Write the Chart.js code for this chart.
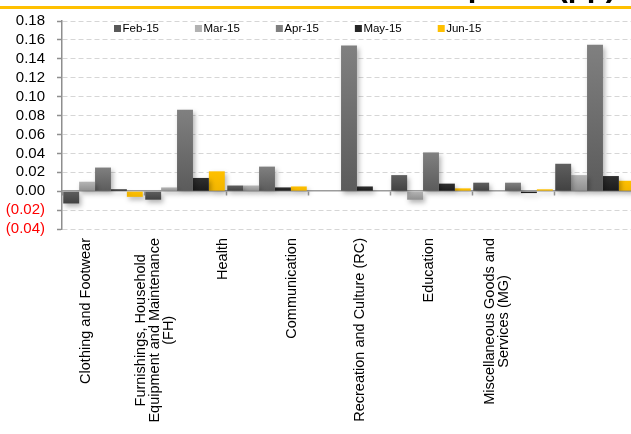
<!DOCTYPE html>
<html>
<head>
<meta charset="utf-8">
<script src="https://cdn.jsdelivr.net/npm/chart.js@4.4.0/dist/chart.umd.min.js"></script>
<style>
  html, body { margin: 0; padding: 0; background: #fff; overflow: hidden; width: 631px; height: 434px; }
  #wrap { position: relative; width: 631px; height: 434px; overflow: hidden; }
  #chart { position: absolute; left: 0; top: 0; }
  #title { position: absolute; top: -30px; right: 15px; font: bold 31px "Liberation Sans", Arial, sans-serif;
           line-height: 31px; white-space: nowrap; color: #000; z-index: 1; }
  #rule { position: absolute; left: 0; top: 6px; width: 100%; height: 3px; background: #ffc000; z-index: 2; }
</style>
</head>
<body>
<div id="wrap">
  <canvas id="chart" width="640" height="434"></canvas>
  <div id="title">Non-Food Inflation: Contribution Impacts (pp)</div>
  <div id="rule"></div>
</div>
<script>
// Category groups (each entry is the list of lines of its label)
const categories = [
  ['Clothing and Footwear'],
  ['Furnishings, Household', 'Equipment and Maintenance', '(FH)'],
  ['Health'],
  ['Communication'],
  ['Recreation and Culture (RC)'],
  ['Education'],
  ['Miscellaneous Goods and', 'Services (MG)']
];

// Series names
const months = ['Feb-15', 'Mar-15', 'Apr-15', 'May-15', 'Jun-15'];

// Contributions in percentage points, one value per category
const feb15 = [-0.013, -0.009, 0.006, 0.000, 0.017, 0.009, 0.029];
const mar15 = [0.010, 0.004, 0.006, 0.000, -0.009, 0.001, 0.017];
const apr15 = [0.025, 0.086, 0.026, 0.154, 0.041, 0.009, 0.155];
const may15 = [0.002, 0.014, 0.004, 0.005, 0.008, -0.002, 0.016];
const jun15 = [-0.006, 0.021, 0.005, 0.000, 0.003, 0.002, 0.011];

// Value axis ticks
const yMin = -0.04;
const yMax = 0.18;
const yStep = 0.02;

// Fill colours: [top of bar, bottom of bar, legend swatch]
const palette = [
  ['#5f5f5f', '#414141', '#595959'],
  ['#b5b5b5', '#8f8f8f', '#b2b2b2'],
  ['#808080', '#5b5b5b', '#7f7f7f'],
  ['#2f2f2f', '#1b1b1b', '#262626'],
  ['#ffc000', '#f2b500', '#ffc000']
];

const FONT = '"Liberation Sans", Arial, sans-serif';

// Vertical gradient per bar, from its top edge down to its bottom edge
function barFill(light, dark) {
  return (c) => {
    const chart = c.chart;
    const ys = chart.scales && chart.scales.y;
    if (c.type !== 'data' || !ys) return light;
    const v = c.raw;
    const top = ys.getPixelForValue(Math.max(v, 0));
    const bot = ys.getPixelForValue(Math.min(v, 0));
    if (!isFinite(top) || !isFinite(bot) || bot - top < 0.5) return dark;
    const g = chart.ctx.createLinearGradient(0, top, 0, bot);
    g.addColorStop(0, light);
    g.addColorStop(1, dark);
    return g;
  };
}

const seriesValues = [feb15, mar15, apr15, may15, jun15];

const datasets = months.map((m, i) => ({
  label: m,
  data: seriesValues[i],
  xAxisID: 'x',
  yAxisID: 'y',
  backgroundColor: barFill(palette[i][0], palette[i][1]),
  borderWidth: 0,
  barPercentage: 1.0,
  categoryPercentage: 0.97
}));

// Soft drop shadow under the bars
const barShadow = {
  id: 'barShadow',
  beforeDatasetsDraw(chart) {
    const ctx = chart.ctx;
    ctx.save();
    ctx.shadowColor = 'rgba(0,0,0,0.30)';
    ctx.shadowBlur = 5;
    ctx.shadowOffsetX = 2;
    ctx.shadowOffsetY = 3;
  },
  afterDatasetsDraw(chart) {
    chart.ctx.restore();
  }
};

// Single-row legend drawn inside the top of the plot area
const insideLegend = {
  id: 'insideLegend',
  afterDraw(chart) {
    const { ctx, chartArea } = chart;
    ctx.save();
    ctx.font = '11.5px ' + FONT;
    ctx.textBaseline = 'middle';
    ctx.textAlign = 'left';
    let x = chartArea.left + 52;
    const y = chartArea.top + 7.5;
    chart.data.datasets.forEach((ds, i) => {
      ctx.fillStyle = palette[i][2];
      ctx.fillRect(x, y - 3.5, 7, 7);
      ctx.fillStyle = '#000';
      ctx.fillText(ds.label, x + 8.5, y);
      x += 8.5 + ctx.measureText(ds.label).width + 36;
    });
    ctx.restore();
  }
};

// Rotated, line-centred category labels placed along the label scale
const LABEL_SIZE = 14.5;
const LABEL_LINE = 14;
const LABEL_GAP = 9;
const categoryLabels = {
  id: 'categoryLabels',
  afterDraw(chart) {
    const s = chart.scales.xl;
    const ctx = chart.ctx;
    ctx.save();
    ctx.font = LABEL_SIZE + 'px ' + FONT;
    ctx.fillStyle = '#000';
    ctx.textAlign = 'center';
    ctx.textBaseline = 'middle';
    categories.forEach((lines, i) => {
      const cx = s.getPixelForValue(i);
      const w = Math.max(...lines.map(l => ctx.measureText(l).width));
      const cy = s.top + LABEL_GAP + w / 2;
      lines.forEach((line, j) => {
        ctx.save();
        ctx.translate(cx + (j - (lines.length - 1) / 2) * LABEL_LINE, cy);
        ctx.rotate(-Math.PI / 2);
        ctx.fillText(line, 0, 0);
        ctx.restore();
      });
    });
    ctx.restore();
  }
};

function fmtTick(v) {
  if (Math.abs(v) < 1e-9) return '0.00';
  return v < 0 ? '(' + Math.abs(v).toFixed(2) + ')' : v.toFixed(2);
}

new Chart(document.getElementById('chart'), {
  type: 'bar',
  data: {
    labels: categories.map(l => l.join(' ')),
    datasets
  },
  options: {
    responsive: false,
    animation: false,
    devicePixelRatio: 1,
    layout: { padding: { top: 19, right: 4, left: 0, bottom: 0 } },
    plugins: {
      legend: { display: false },
      title: { display: false },
      tooltip: { enabled: false }
    },
    scales: {
      x: {
        type: 'category',
        position: { y: 0 },
        offset: true,
        ticks: { display: false },
        grid: {
          offset: true,
          drawOnChartArea: false,
          drawTicks: true,
          tickLength: 4,
          tickColor: '#999999',
          tickWidth: 1.5
        },
        border: { display: true, color: '#9c9c9c', width: 1.5 }
      },
      xl: {
        type: 'linear',
        axis: 'x',
        position: 'bottom',
        offset: false,
        bounds: 'data',
        min: -0.35,
        max: 8.02,
        ticks: { display: false },
        grid: { display: false, drawTicks: false, offset: false },
        border: { display: false },
        afterFit(scale) { scale.height = 205; }
      },
      y: {
        type: 'linear',
        position: 'left',
        min: yMin,
        max: yMax,
        ticks: {
          stepSize: yStep,
          autoSkip: false,
          padding: 12,
          font: { family: FONT, size: 15 },
          color: (c) => (c.tick && c.tick.value < -1e-9 ? '#ff0000' : '#000000'),
          callback: (v) => fmtTick(v)
        },
        grid: {
          color: (c) => (c.tick && Math.abs(c.tick.value) < 1e-9 ? 'rgba(0,0,0,0)' : '#d6d6d6'),
          lineWidth: 1,
          drawTicks: true,
          tickLength: 5,
          tickColor: '#8e8e8e',
          tickWidth: 1.5,
          tickBorderDash: []
        },
        border: { display: true, color: '#8e8e8e', width: 1.5, dash: [5, 3] },
        afterFit(scale) { scale.width = 62; }
      }
    }
  },
  plugins: [barShadow, insideLegend, categoryLabels]
});
</script>
</body>
</html>
